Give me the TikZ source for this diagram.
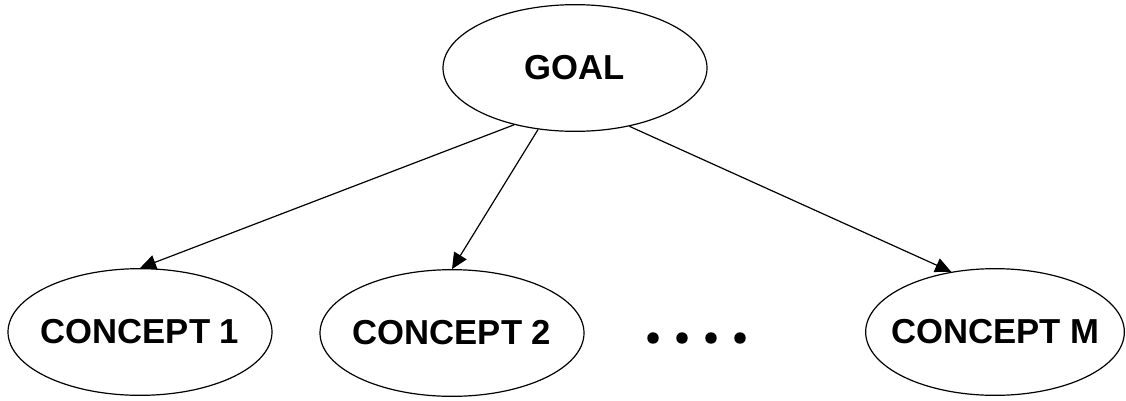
\documentclass[tikz,border=0pt]{standalone}
\usepackage{fontspec}
\setmainfont{Liberation Sans}
\usetikzlibrary{shapes.geometric,arrows.meta}
\begin{document}
\begin{tikzpicture}[x=0.75pt,y=-0.75pt,
  concept/.style={ellipse,draw,line width=0.9pt,inner sep=0pt,
    minimum width=198pt,minimum height=95pt,
    font=\fontsize{26}{30}\selectfont\bfseries},
  link/.style={line width=0.9pt,-{Triangle[length=12pt,width=11pt]}}]
  \useasboundingbox (0,0) rectangle (1126,400);
  % the label is boxed at zero width so the ellipse keeps its set size
  \node[concept] (goal) at (575,68) {\makebox[0pt]{GOAL}};
  \node[concept] (c1) at (140,332) {\makebox[0pt]{CONCEPT 1}};
  \node[concept] (c2) at (452,333) {\makebox[0pt]{CONCEPT 2}};
  \node[concept,minimum width=194pt] (cm) at (995,332) {\makebox[0pt]{CONCEPT M}};
  % ellipsis between the second and the last concept
  \foreach \x in {653,682,711,740} \fill (\x,338) circle (4.3pt);
  \draw[link] (goal.223) -- (c1.north);
  \draw[link] (goal.239) -- (c2.north);
  \draw[link] (goal.313) -- (cm.126);
\end{tikzpicture}
\end{document}
